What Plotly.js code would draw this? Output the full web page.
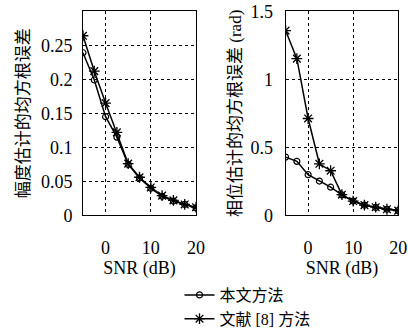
<!DOCTYPE html>
<html><head><meta charset="utf-8">
<script src="https://cdn.plot.ly/plotly-3.0.1.min.js"></script>
<style>html,body{margin:0;padding:0;background:#fff}#chart{width:408px;height:336px}</style>
</head><body><div id="chart"></div>
<script>
const snr = [-5, -2.5, 0, 2.5, 5, 7.5, 10, 12.5, 15, 17.5, 20];
const ampProposed = [0.239, 0.199, 0.145, 0.115, 0.075, 0.055, 0.040, 0.028, 0.021, 0.016, 0.011];
const ampRef8 = [0.264, 0.212, 0.165, 0.122, 0.076, 0.056, 0.041, 0.029, 0.022, 0.016, 0.012];
const phaseProposed = [0.428, 0.397, 0.299, 0.252, 0.207, 0.150, 0.105, 0.075, 0.058, 0.045, 0.035];
const phaseRef8 = [1.358, 1.152, 0.712, 0.379, 0.328, 0.152, 0.105, 0.075, 0.060, 0.045, 0.035];
const seriesNames = ['本文方法', '文献 [8] 方法'];
const xTitle = 'SNR (dB)';
const yTitleAmp = '幅度估计的均方根误差';
const yTitlePhase = '相位估计的均方根误差 (rad)';

const SERIF = '"Times New Roman", "Liberation Serif", "DejaVu Serif", serif';
const FONT = '"Times New Roman", "Liberation Serif", "Noto Sans CJK SC", serif';
const circ = {symbol: 'circle-open', size: 6, color: '#000', line: {width: 1.2, color: '#000'}};
const star = {symbol: 'asterisk-open', size: 9, color: '#000', line: {width: 1.3, color: '#000'}};
const ln = {color: '#000', width: 1.5};

const traces = [
  {x: snr, y: ampProposed, xaxis: 'x', yaxis: 'y', mode: 'lines+markers', name: seriesNames[0], marker: circ, line: ln, legendgroup: 'a'},
  {x: snr, y: ampRef8, xaxis: 'x', yaxis: 'y', mode: 'lines+markers', name: seriesNames[1], marker: star, line: ln, legendgroup: 'b'},
  {x: snr, y: phaseProposed, xaxis: 'x2', yaxis: 'y2', mode: 'lines+markers', name: seriesNames[0], marker: circ, line: ln, legendgroup: 'a', showlegend: false},
  {x: snr, y: phaseRef8, xaxis: 'x2', yaxis: 'y2', mode: 'lines+markers', name: seriesNames[1], marker: star, line: ln, legendgroup: 'b', showlegend: false}
];

const axBase = {
  showline: true, mirror: true, linecolor: '#000', linewidth: 1,
  showgrid: true, gridcolor: '#000', griddash: 'dot', gridwidth: 1,
  zeroline: false, ticks: '', tickfont: {family: SERIF, size: 18, color: '#000'},
  automargin: false, ticklabeloverflow: 'allow'
};

const layout = {
  width: 408, height: 336,
  margin: {l: 0, r: 0, t: 0, b: 0},
  paper_bgcolor: '#fff', plot_bgcolor: '#fff',
  font: {family: FONT, color: '#000'},
  showlegend: true,
  legend: {x: 0.44, y: 0.12, xanchor: 'left', yanchor: 'top', font: {family: FONT, size: 16, color: '#000'}, tracegroupgap: 0, bgcolor: 'rgba(0,0,0,0)'},
  xaxis: Object.assign({}, axBase, {domain: [0.2034, 0.4804], range: [-5, 20], tick0: 0, dtick: 10, anchor: 'y', ticklabelstandoff: 16,
    title: {text: xTitle, font: {family: SERIF, size: 18}, standoff: 3}}),
  yaxis: Object.assign({}, axBase, {domain: [0.3185, 0.9643], range: [0, 0.3], tickvals: [0, 0.05, 0.1, 0.15, 0.2, 0.25], ticktext: ['0', '0.05', '0.1', '0.15', '0.2', '0.25'], anchor: 'x', ticklabelstandoff: 6,
    title: {text: yTitleAmp, font: {family: FONT, size: 17}, standoff: 6}}),
  xaxis2: Object.assign({}, axBase, {domain: [0.700, 0.976], range: [-5, 20], tick0: 0, dtick: 10, anchor: 'y2', ticklabelstandoff: 16,
    title: {text: xTitle, font: {family: SERIF, size: 18}, standoff: 3}}),
  yaxis2: Object.assign({}, axBase, {domain: [0.3185, 0.9643], range: [0, 1.5], tickvals: [0, 0.5, 1, 1.5], ticktext: ['0', '0.5', '1', '1.5'], anchor: 'x2', ticklabelstandoff: 8,
    title: {text: yTitlePhase, font: {family: FONT, size: 17}, standoff: 4}})
};

Plotly.newPlot('chart', traces, layout, {staticPlot: true, displayModeBar: false});
</script>
</body></html>
